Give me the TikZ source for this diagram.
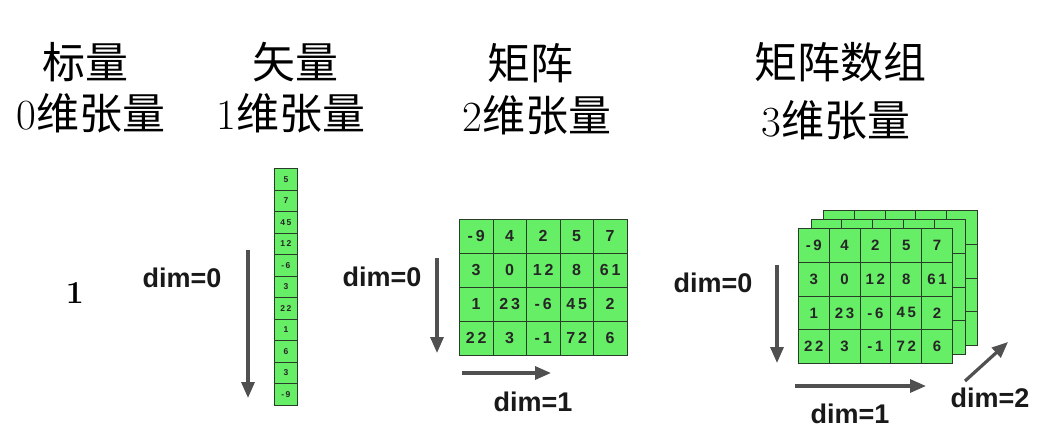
\documentclass[tikz,border=0pt]{standalone}
\usepackage{fontspec}
\newfontfamily\cjk{Noto Sans CJK SC}
\newfontfamily\labf{Liberation Sans}
\newfontfamily\cellf{Liberation Sans}[LetterSpace=18]
\usetikzlibrary{arrows.meta}
\definecolor{cellgreen}{RGB}{102,238,102}
\definecolor{arrowgray}{RGB}{80,80,80}
\definecolor{gridline}{RGB}{40,60,40}
\tikzset{
  title/.style={font=\cjk\fontsize{43}{45}\selectfont, inner sep=0},
  dimlabel/.style={font=\labf\bfseries\fontsize{27}{29}\selectfont, inner sep=0, text=black!90},
  cellbase/.style={draw=gridline, fill=cellgreen, line width=0.8pt, inner sep=0, anchor=north west, text=black!85},
  vcell/.style={cellbase, minimum width=23pt, minimum height=21.5pt, font=\cellf\bfseries\fontsize{8.5}{9}\selectfont},
  mcell/.style={cellbase, minimum width=33.5pt, minimum height=34pt, font=\cellf\bfseries\fontsize{16}{17}\selectfont},
  tcell/.style={cellbase, minimum width=30.8pt, minimum height=33.8pt, font=\cellf\bfseries\fontsize{15}{16}\selectfont},
  axis/.style={draw=arrowgray, line width=3.2pt, -{Triangle[length=16pt,width=13pt]}},
}
\begin{document}
\begin{tikzpicture}[x=1pt,y=-1pt]
\useasboundingbox[fill=white] (0,0) rectangle (1044,440);

% titles
\node[title] (t0a) at (85,62) {标量};
\node[title] (t0b) at (91,113) {{\rmfamily 0}维张量};
\node[title] (t1a) at (295,62) {矢量};
\node[title] (t1b) at (291,113) {{\rmfamily 1}维张量};
\node[title] (t2a) at (530,63) {矩阵};
\node[title] (t2b) at (537,115) {{\rmfamily 2}维张量};
\node[title] (t3a) at (840,62) {矩阵数组};
\node[title] (t3b) at (836,120) {{\rmfamily 3}维张量};

% scalar
\node[font=\bfseries\fontsize{32}{34}\selectfont, inner sep=0] (s) at (75,293) {1};

% vector
\foreach \v [count=\i from 0] in {5,7,45,12,-6,3,22,1,6,3,-9}
  \node[vcell] (v\i) at (274,168+21.5*\i) {\v};
\coordinate (va0) at (248,250);
\coordinate (va1) at (248,398);
\draw[axis] (va0) -- (va1);
\node[dimlabel] (vd0) at (182,278) {dim=0};

% matrix
\foreach \row [count=\r from 0] in {{-9,4,2,5,7},{3,0,12,8,61},{1,23,-6,45,2},{22,3,-1,72,6}}
  \foreach \v [count=\c from 0] in \row
    \node[mcell] (m\r\c) at (459+33.5*\c,219+34*\r) {\v};
\coordinate (ma0) at (437,258);
\coordinate (ma1) at (437,353);
\coordinate (mb0) at (462,373);
\coordinate (mb1) at (551,373);
\draw[axis] (ma0) -- (ma1);
\draw[axis] (mb0) -- (mb1);
\node[dimlabel] (md0) at (382,277) {dim=0};
\node[dimlabel] (md1) at (533,402) {dim=1};

% 3-d array: back layers
\foreach \ox/\oy/\nm in {823/210/b, 810.5/219/c}
  \foreach \r in {0,...,3}
    \foreach \c in {0,...,4}
      \node[tcell] (\nm\r\c) at (\ox+30.8*\c,\oy+33.8*\r) {};
\foreach \row [count=\r from 0] in {{-9,4,2,5,7},{3,0,12,8,61},{1,23,-6,45,2},{22,3,-1,72,6}}
  \foreach \v [count=\c from 0] in \row
    \node[tcell] (f\r\c) at (798+30.8*\c,228+33.8*\r) {\v};
\coordinate (ta0) at (777,265);
\coordinate (ta1) at (777,363);
\coordinate (tb0) at (795,386);
\coordinate (tb1) at (926,386);
\coordinate (tc0) at (965,381);
\coordinate (tc1) at (1008,342);
\draw[axis] (ta0) -- (ta1);
\draw[axis] (tb0) -- (tb1);
\draw[axis] (tc0) -- (tc1);
\node[dimlabel] (td0) at (713,283) {dim=0};
\node[dimlabel] (td1) at (850,414) {dim=1};
\node[dimlabel] (td2) at (990,398) {dim=2};
\end{tikzpicture}
\end{document}
